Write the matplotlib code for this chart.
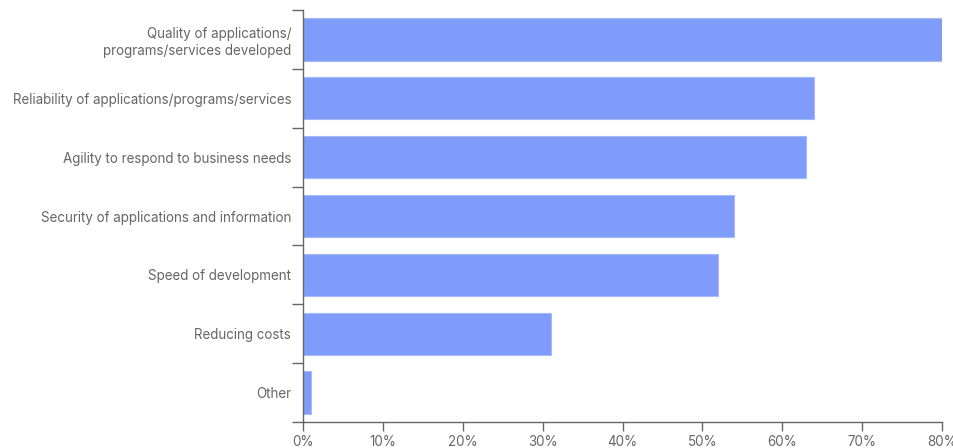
import matplotlib
matplotlib.use("Agg")
import matplotlib.pyplot as plt
import numpy as np

categories = [
    "Quality of applications/\nprograms/services developed",
    "Reliability of applications/programs/services",
    "Agility to respond to business needs",
    "Security of applications and information",
    "Speed of development",
    "Reducing costs",
    "Other",
]
values = [80, 64, 63, 54, 52, 31, 1]
xticks = [0, 10, 20, 30, 40, 50, 60, 70, 80]
xtick_labels = [f"{t}%" for t in xticks]

plt.rcParams["font.family"] = ["Inter", "DejaVu Sans"]
text_color = "#666666"
axis_color = "#666666"
bar_color = "#7f9cfa"

fig = plt.figure(figsize=(9.54, 4.48), dpi=100)
ax = fig.add_axes([303 / 954, 1 - 422 / 448, 639 / 954, 412 / 448])

y = np.arange(len(categories))
ax.barh(y, values, height=0.72, color=bar_color, edgecolor="#a6b9fb", linewidth=0.8)

ax.set_ylim(len(categories) - 0.5, -0.5)
ax.set_xlim(0, 80)

ax.set_yticks(y)
ax.set_yticklabels(categories, fontsize=9.65, color=text_color, ha="right", linespacing=1.3)
ax.tick_params(axis="y", which="major", length=0, pad=8.5)
ax.set_yticks(np.arange(-0.5, len(categories)), minor=True)
ax.tick_params(axis="y", which="minor", length=8, width=1, color=axis_color)

ax.set_xticks(xticks)
ax.set_xticklabels(xtick_labels, fontsize=9.65, color=text_color)
ax.tick_params(axis="x", length=6.5, width=1, color=axis_color, pad=3)

for side in ["top", "right"]:
    ax.spines[side].set_visible(False)
for side in ["left", "bottom"]:
    ax.spines[side].set_color(axis_color)
    ax.spines[side].set_linewidth(1)

fig.savefig("out.png", dpi=100)
